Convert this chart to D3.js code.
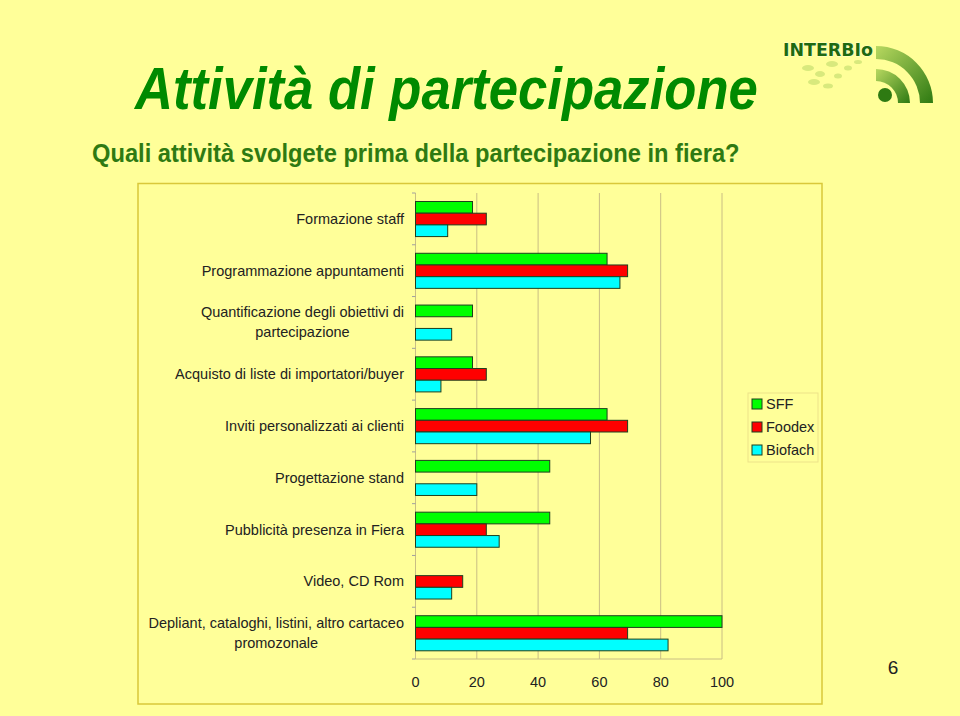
<!DOCTYPE html>
<html><head><meta charset="utf-8">
<script src="https://cdn.jsdelivr.net/npm/d3@7"></script>
<style>
html,body{margin:0;padding:0;background:#FFFF99;}
svg{display:block;}
</style></head>
<body>
<script>
const categories = [
  ["Formazione staff"],
  ["Programmazione appuntamenti"],
  ["Quantificazione degli obiettivi di", "partecipazione"],
  ["Acquisto di liste di importatori/buyer"],
  ["Inviti personalizzati ai clienti"],
  ["Progettazione stand"],
  ["Pubblicità presenza in Fiera"],
  ["Video, CD Rom"],
  ["Depliant, cataloghi, listini, altro cartaceo", "promozonale"]
];
const seriesNames = ["SFF", "Foodex", "Biofach"];
const seriesColors = ["#00FF00", "#FF0000", "#00FFFF"];
const sff     = [18.6, 62.5, 18.6, 18.6, 62.5, 43.8, 43.8, 0, 100];
const foodex  = [23.1, 69.2, 0, 23.1, 69.2, 0, 23.1, 15.4, 69.2];
const biofach = [10.5, 66.7, 11.8, 8.3, 57.1, 20.0, 27.3, 11.8, 82.4];
const xTicks = [0, 20, 40, 60, 80, 100];

const W = 960, H = 716;
const svg = d3.select("body").append("svg").attr("width", W).attr("height", H);
svg.append("rect").attr("width", W).attr("height", H).attr("fill", "#FFFF99");

// Condensed text helper: scale horizontally to a target width
function condensedText(xPos, yPos, str, size, weight, style, color, targetW) {
  const t = svg.append("text").attr("x", 0).attr("y", 0)
    .attr("font-family", "Liberation Sans, Arial, sans-serif")
    .attr("font-weight", weight).attr("font-style", style)
    .attr("font-size", size).attr("fill", color).text(str);
  const w = t.node().getComputedTextLength();
  t.attr("transform", `translate(${xPos},${yPos}) scale(${targetW / w},1)`);
  return t;
}
condensedText(135, 109, "Attività di partecipazione", 60, "bold", "italic", "#008A00", 623);
condensedText(92, 162, "Quali attività svolgete prima della partecipazione in fiera?", 25, "bold", "normal", "#2E7A12", 648);

// Logo
const logo = svg.append("g");
const defs = svg.append("defs");
const lg = defs.append("linearGradient").attr("id", "arcg").attr("x1", "0").attr("y1", "0").attr("x2", "1").attr("y2", "1");
lg.append("stop").attr("offset", "0").attr("stop-color", "#B8D860");
lg.append("stop").attr("offset", "1").attr("stop-color", "#2E7A12");
const cx = 876, cy = 103;
const arcGen = d3.arc();
logo.append("path").attr("transform", `translate(${cx},${cy})`)
  .attr("d", arcGen({innerRadius: 44, outerRadius: 57, startAngle: 0, endAngle: Math.PI / 2}))
  .attr("fill", "url(#arcg)");
logo.append("path").attr("transform", `translate(${cx},${cy})`)
  .attr("d", arcGen({innerRadius: 22, outerRadius: 34, startAngle: 0, endAngle: Math.PI / 2}))
  .attr("fill", "url(#arcg)");
logo.append("circle").attr("cx", cx + 9).attr("cy", cy - 8).attr("r", 7).attr("fill", "#2E7A12");
[[808, 68, 6, 3], [820, 74, 5, 3], [832, 64, 6, 3], [814, 82, 6, 3], [838, 76, 4, 2.5], [848, 68, 4, 2.5], [828, 86, 5, 2.5], [858, 62, 4, 2]].forEach(d => {
  logo.append("ellipse").attr("cx", d[0]).attr("cy", d[1]).attr("rx", d[2]).attr("ry", d[3])
    .attr("fill", "#C8E070").attr("opacity", 0.7);
});
logo.append("text").attr("x", 783).attr("y", 56)
  .attr("font-family", "DejaVu Sans, sans-serif").attr("font-weight", "bold")
  .attr("font-size", 18).attr("fill", "#1E6A10")
  .attr("stroke", "#FFFFFF").attr("stroke-width", 0.6).attr("paint-order", "stroke")
  .attr("textLength", 90).attr("lengthAdjust", "spacingAndGlyphs")
  .text("INTERBIo");

// Panel
svg.append("rect").attr("x", 138).attr("y", 183.5).attr("width", 684).attr("height", 520.5)
  .attr("fill", "#FFFF99").attr("stroke", "#D9C83A").attr("stroke-width", 1.5);

// Scales
const x = d3.scaleLinear().domain([0, 100]).range([415.5, 722]);
const y = d3.scaleBand().domain(d3.range(categories.length)).range([193, 659]).padding(0);
const inner = d3.scaleBand().domain(seriesNames).range([8.5, y.bandwidth() - 8.2]).padding(0);

// Gridlines
svg.append("g").selectAll("line").data(xTicks.slice(1)).join("line")
  .attr("x1", d => x(d)).attr("x2", d => x(d))
  .attr("y1", 193).attr("y2", 659)
  .attr("stroke", "#C9BE84").attr("stroke-width", 1);

// Y axis ticks
const yAxis = svg.append("g");
yAxis.append("line").attr("x1", 415.5).attr("x2", 415.5).attr("y1", 193).attr("y2", 659)
  .attr("stroke", "#C9BE84").attr("stroke-width", 1);
yAxis.selectAll("line.t").data(d3.range(categories.length + 1)).join("line").attr("class", "t")
  .attr("x1", 412).attr("x2", 415.5)
  .attr("y1", d => d < categories.length ? y(d) : 659)
  .attr("y2", d => d < categories.length ? y(d) : 659)
  .attr("stroke", "#A0A0A0").attr("stroke-width", 1);
svg.append("line").attr("x1", 415.5).attr("x2", 722).attr("y1", 659).attr("y2", 659)
  .attr("stroke", "#C9BE84").attr("stroke-width", 1);

// Bars
const allSeries = [sff, foodex, biofach];
allSeries.forEach((vals, si) => {
  svg.append("g").selectAll("rect").data(vals.map((v, i) => ({v, i}))).join("rect")
    .filter(d => d.v > 0)
    .attr("x", x(0))
    .attr("y", d => y(d.i) + inner(seriesNames[si]))
    .attr("width", d => x(d.v) - x(0))
    .attr("height", inner.bandwidth())
    .attr("fill", seriesColors[si])
    .attr("stroke", "#1E3F1E").attr("stroke-width", 1);
});

// Category labels
const lab = svg.append("g").attr("font-family", "Liberation Sans, Arial, sans-serif")
  .attr("font-size", 14.5).attr("fill", "#222");
categories.forEach((lines, i) => {
  const cyc = y(i) + y.bandwidth() / 2;
  if (lines.length === 1) {
    lab.append("text").attr("text-anchor", "end").attr("x", 404).attr("y", cyc + 5).text(lines[0]);
  } else {
    const tmp = lab.append("text").text(lines[0]);
    const wMax = tmp.node().getComputedTextLength();
    tmp.remove();
    lines.forEach((ln, k) => {
      lab.append("text").attr("text-anchor", "middle")
        .attr("x", 404 - wMax / 2)
        .attr("y", cyc - 5 + k * 20)
        .text(ln);
    });
  }
});

// X tick labels
svg.append("g").selectAll("text").data(xTicks).join("text")
  .attr("x", d => x(d)).attr("y", 687)
  .attr("text-anchor", "middle")
  .attr("font-family", "Liberation Sans, Arial, sans-serif")
  .attr("font-size", 14.5).attr("fill", "#222")
  .text(d => d);

// Legend
const leg = svg.append("g");
leg.append("rect").attr("x", 748).attr("y", 393).attr("width", 70).attr("height", 69)
  .attr("fill", "#FFFF99").attr("stroke", "#EDE38A").attr("stroke-width", 1);
seriesNames.forEach((n, i) => {
  const yy = 404 + i * 23;
  leg.append("rect").attr("x", 752).attr("y", yy - 5).attr("width", 10).attr("height", 10)
    .attr("fill", seriesColors[i]).attr("stroke", "#1E3F1E").attr("stroke-width", 1);
  leg.append("text").attr("x", 766).attr("y", yy + 5)
    .attr("font-family", "Liberation Sans, Arial, sans-serif")
    .attr("font-size", 14.5).attr("fill", "#222").text(n);
});

// Page number
svg.append("text").attr("x", 893).attr("y", 674).attr("text-anchor", "middle")
  .attr("font-family", "Liberation Sans, Arial, sans-serif")
  .attr("font-size", 19).attr("fill", "#222").text("6");
</script>
</body></html>
